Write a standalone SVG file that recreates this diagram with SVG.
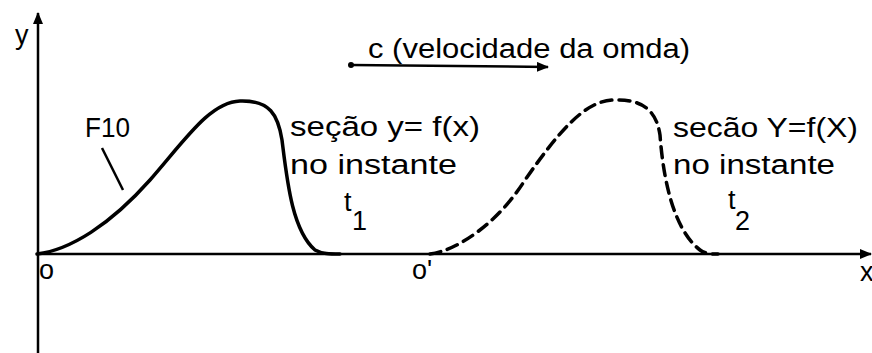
<svg xmlns="http://www.w3.org/2000/svg" width="872" height="353" viewBox="0 0 872 353">
<defs>
<style>
text{font-family:"Liberation Sans","DejaVu Sans",sans-serif;fill:#000;}
.lbl{font-size:27px;}
.ax{stroke:#000;stroke-width:2.5;fill:none;}
.wave{stroke:#000;stroke-width:3.5;fill:none;stroke-linecap:round;}
.dash{stroke-dasharray:11 7;}
</style>
<marker id="ah" viewBox="0 0 12 10" refX="11" refY="5" markerWidth="12" markerHeight="10" markerUnits="userSpaceOnUse" orient="auto">
<path d="M0,0 L12,5 L0,10 Z" fill="#000"/>
</marker>
</defs>
<rect width="872" height="353" fill="#fff"/>
<g id="connectors">
<line class="ax" x1="38" y1="353" x2="38" y2="13" marker-end="url(#ah)"/>
<line class="ax" x1="38" y1="254" x2="871" y2="254" marker-end="url(#ah)"/>
<line x1="351" y1="65" x2="548" y2="67" stroke="#000" stroke-width="2.5" marker-end="url(#ah)"/>
<circle cx="351" cy="65" r="3" fill="#000"/>
<line x1="102" y1="148" x2="123" y2="190" stroke="#000" stroke-width="2.5"/>
</g>
<g id="wave-t1">
<path class="wave" d="M37,254 C70,250 110,225 150,180 C185,140 210,102 240,101 C270,100 278,115 282,140 C287,180 292,230 315,250 C322,254 330,254 340,254"/>
</g>
<g id="wave-t2">
<path class="wave dash" d="M430,254 C460,250 500,220 525,180 C560,130 585,101 613,100 C640,99 656,108 660,135 C663,175 672,228 700,250 C705,254 712,254 718,254"/>
</g>
<g id="labels">
<text class="lbl" x="15" y="44" font-size="30">y</text>
<text class="lbl" x="85" y="137" font-size="25" textLength="45" lengthAdjust="spacingAndGlyphs">F10</text>
<text class="lbl" x="368" y="58" font-size="24" textLength="322" lengthAdjust="spacingAndGlyphs">c (velocidade da omda)</text>
<text class="lbl" x="290" y="136" textLength="190" lengthAdjust="spacingAndGlyphs">seção y= f(x)</text>
<text class="lbl" x="290" y="174" textLength="167" lengthAdjust="spacingAndGlyphs">no instante</text>
<text class="lbl" x="344" y="211" font-size="28">t</text>
<text class="lbl" x="352" y="230" font-size="28">1</text>
<text class="lbl" x="673" y="137" textLength="185" lengthAdjust="spacingAndGlyphs">secão Y=f(X)</text>
<text class="lbl" x="673" y="174" textLength="162" lengthAdjust="spacingAndGlyphs">no instante</text>
<text class="lbl" x="728" y="209" font-size="28">t</text>
<text class="lbl" x="735" y="230" font-size="28">2</text>
<text class="lbl" x="39" y="279">o</text>
<text class="lbl" x="412" y="279">o'</text>
<text class="lbl" x="860" y="281">x</text>
</g>
</svg>
